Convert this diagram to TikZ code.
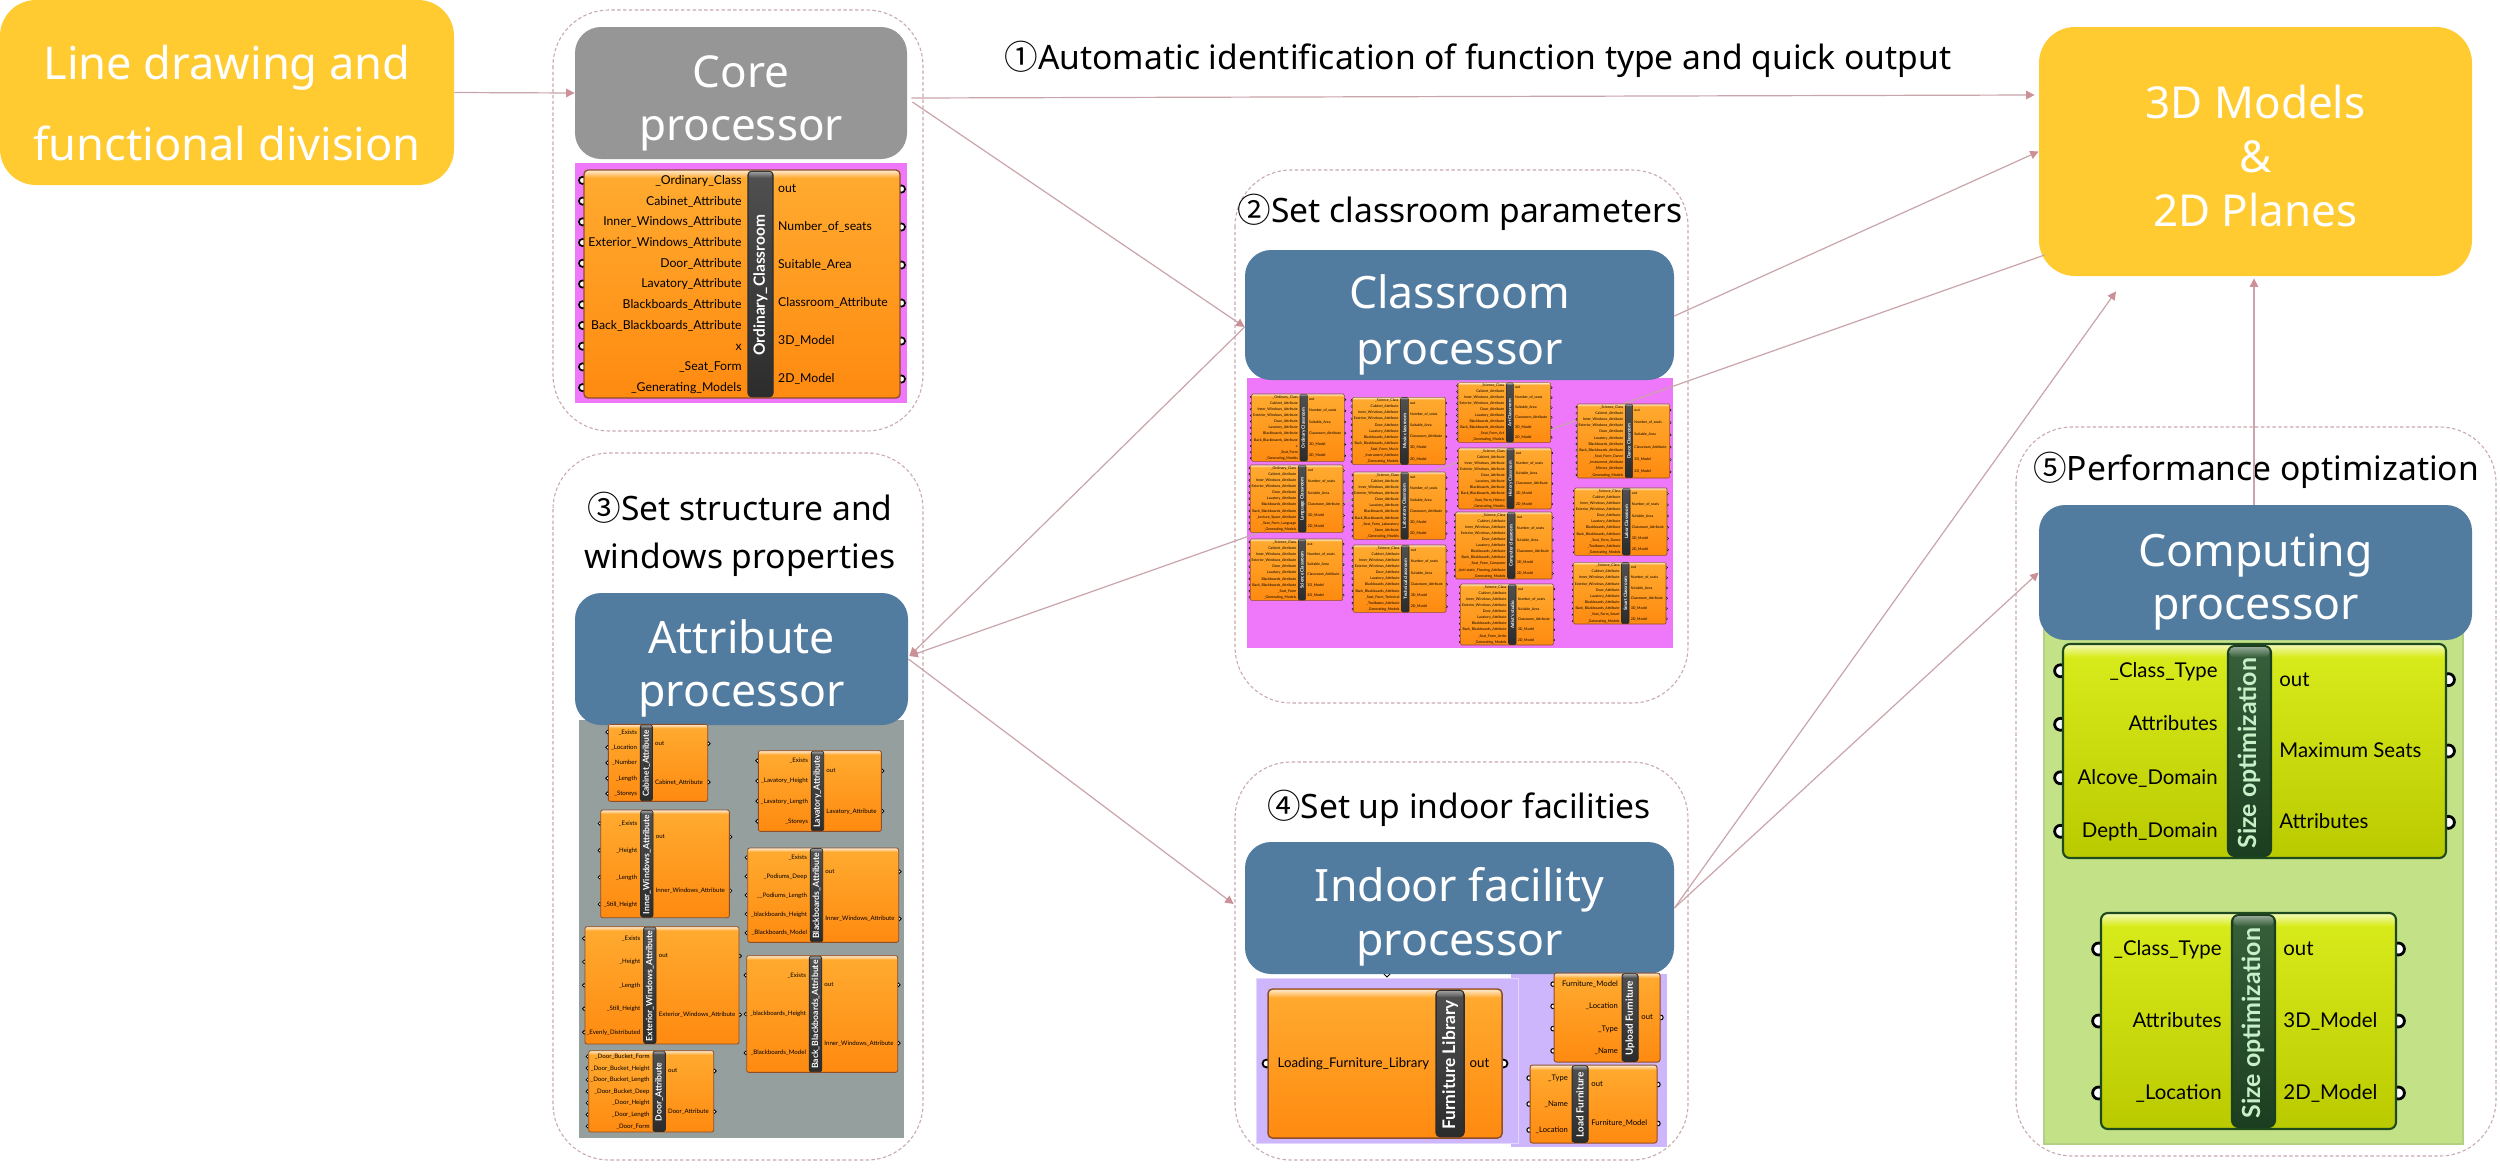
\documentclass[tikz,border=0pt]{standalone}
\usepackage{fontspec}
\setmainfont{Noto Sans}
\newfontfamily\ghfont{Lato}
\newfontfamily\numfont{Noto Sans CJK SC}
\usetikzlibrary{arrows.meta}
\definecolor{conn}{HTML}{C9A4AA}
\definecolor{tipc}{HTML}{CC9098}
\definecolor{dashc}{HTML}{C8AAB0}
\definecolor{yel}{HTML}{FFCB30}
\definecolor{blu}{HTML}{527BA0}
\definecolor{gry}{HTML}{969696}
\definecolor{pinkbg}{HTML}{EE78F9}
\definecolor{lilacbg}{HTML}{CDB6FB}
\definecolor{greybg}{HTML}{959F9E}
\definecolor{greenbg}{HTML}{C3E288}
\definecolor{oT}{HTML}{FFAB30}
\definecolor{oB}{HTML}{FF8A10}
\definecolor{oE}{HTML}{8F4E2A}
\definecolor{oH}{HTML}{FFE4C0}
\definecolor{gT}{HTML}{D9EC1C}
\definecolor{gB}{HTML}{BACA00}
\definecolor{gE}{HTML}{1E4A1E}
\definecolor{gH}{HTML}{F0F8A8}
\definecolor{bT}{HTML}{505050}
\definecolor{bB}{HTML}{2C2C2C}
\definecolor{bH}{HTML}{9A9A9A}
\definecolor{dT}{HTML}{36603A}
\definecolor{dB}{HTML}{1C3E20}
\definecolor{dH}{HTML}{8FA592}
\definecolor{dtx}{HTML}{C8F0C8}
\tikzset{
  procbox/.style={rectangle,rounded corners=13pt,inner sep=0pt},
  boxlabel/.style={inner sep=0pt,text=white,align=center},
  groupbox/.style={draw=dashc,line width=.55pt,dash pattern=on 1.7pt off 1.2pt,rounded corners=28pt},
  link/.style={draw=conn,line width=.6pt,-{Triangle[length=4.2pt,width=4.2pt,color=tipc]}},
  caption/.style={inner sep=0pt,text=black,align=center},
}
\newcommand\cnum[1]{{\numfont #1}}
\catcode`\_=12
\newcounter{ghn}
\def\ghparse#1,#2,#3,#4;#5,#6;{\def\zxa{#1}\def\zya{#2}\def\zxb{#3}\def\zyb{#4}\def\zba{#5}\def\zbb{#6}}
\def\ox{0}\def\oy{0}\def\zs{1}\def\tcoef{0.31}
\def\cT{oT}\def\cB{oB}\def\cE{oE}\def\cH{oH}\def\bbT{bT}\def\bbB{bB}\def\bbH{bH}\def\ttx{white}
\def\ghcountlist#1#2{\gdef\ghcnt{0}\foreach \t in #1 {\pgfmathtruncatemacro\ghm{\ghcnt+1}\global\let\ghcnt\ghm}\let#2\ghcnt}
\newcommand\ghc[5]{% {x1,y1,x2,y2;bx1,bx2} title left right fs
  \stepcounter{ghn}\edef\gid{gh\arabic{ghn}}%
  \ghparse#1;%
  \edef\ghL{#3}\edef\ghR{#4}%
  \pgfmathsetmacro\xa{\ox+\zxa/\zs}\pgfmathsetmacro\ya{\oy+\zya/\zs}%
  \pgfmathsetmacro\xb{\ox+\zxb/\zs}\pgfmathsetmacro\yb{\oy+\zyb/\zs}%
  \pgfmathsetmacro\ba{\ox+\zba/\zs}\pgfmathsetmacro\bb{\ox+\zbb/\zs}%
  \pgfmathsetmacro\fs{#5}\pgfmathsetmacro\fsp{#5*0.51}%
  \pgfmathsetmacro\rr{#5*0.17}\pgfmathsetmacro\pr{#5*0.30}\pgfmathsetmacro\plw{#5*0.07}%
  \pgfmathsetmacro\elw{#5*0.045+0.15}%
  \pgfmathsetmacro\tsz{(\bb-\ba)*\tcoef}%
  \ghcountlist\ghL\nL\ghcountlist\ghR\nR
  \foreach \t [count=\i] in \ghL {\pgfmathsetmacro\yy{\ya+(\yb-\ya)*(\i-0.5)/\nL}%
    \draw[black,fill=white,line width=\plw pt] (\xa-\pr*0.4,\yy) circle[radius=\pr];}%
  \foreach \t [count=\i] in \ghR {\pgfmathsetmacro\yy{\ya+(\yb-\ya)*(\i-0.5)/\nR}%
    \draw[black,fill=white,line width=\plw pt] (\xb+\pr*0.4,\yy) circle[radius=\pr];}%
  \path[top color=\cT,bottom color=\cB,rounded corners=\rr pt] (\xa,\ya) rectangle (\xb,\yb);%
  \path[top color=\cH,bottom color=\cT] (\xa+\fs*.08,\ya+\fs*.08) rectangle (\xb-\fs*.08,\ya+\fs*.65);%
  \draw[\cE,line width=\elw pt,rounded corners=\rr pt] (\xa,\ya) rectangle (\xb,\yb);%
  \path[top color=\bbT,bottom color=\bbB,draw=\bbB,line width=\elw pt,rounded corners=\rr pt] (\ba,\ya+\fs*.1) rectangle (\bb,\yb-\fs*.1);%
  \path[top color=\bbH,bottom color=\bbT,rounded corners=\rr*0.6 pt] (\ba+\fs*.08,\ya+\fs*.16) rectangle (\bb-\fs*.08,\ya+\fs*.65);%
  \foreach \t [count=\i] in \ghL {\pgfmathsetmacro\yy{\ya+(\yb-\ya)*(\i-0.5)/\nL+\fs*.33}%
    \node[name=\gid-l\i,anchor=base east,inner sep=0pt,font=\ghfont\fontsize{\fsp}{\fsp}\selectfont] at (\ba-\fs*.5,\yy) {\t};}%
  \foreach \t [count=\i] in \ghR {\pgfmathsetmacro\yy{\ya+(\yb-\ya)*(\i-0.5)/\nR+\fs*.33}%
    \node[name=\gid-r\i,anchor=base west,inner sep=0pt,font=\ghfont\fontsize{\fsp}{\fsp}\selectfont] at (\bb+\fs*.4,\yy) {\t};}%
  \node[name=\gid-t,rotate=90,inner sep=0pt,text=\ttx,font=\ghfont\bfseries\fontsize{\tsz}{\tsz}\selectfont] at ({(\ba+\bb)/2},{(\ya+\yb)/2+\fs*.1}) {#2};%
}
\def\ordA{_Ordinary_Class,Cabinet_Attribute,Inner_Windows_Attribute,Exterior_Windows_Attribute,Door_Attribute,Lavatory_Attribute,Blackboards_Attribute,Back_Blackboards_Attribute}
\def\sciA{_Science_Class,Cabinet_Attribute,Inner_Windows_Attribute,Exterior_Windows_Attribute,Door_Attribute,Lavatory_Attribute,Blackboards_Attribute,Back_Blackboards_Attribute}
\def\outA{out,Number_of_seats,Suitable_Area,Classroom_Attribute,3D_Model,2D_Model}
\begin{document}
\begin{tikzpicture}[x=0.5pt,y=-0.5pt]
\path[use as bounding box,fill=white] (0,0) rectangle (2500,1173);
% dashed groups
\path[groupbox] (553,10) rectangle (923,431);
\path[groupbox] (1235,170) rectangle (1688,703);
\path[groupbox] (553,453) rectangle (923,1160);
\path[groupbox] (1235,762) rectangle (1688,1160);
\path[groupbox] (2016,427) rectangle (2496,1156);
% coloured grounds
\fill[pinkbg] (575,163) rectangle (907,403);
\fill[pinkbg] (1247,378) rectangle (1673,648);
\fill[greybg] (579,720) rectangle (904,1138);
\fill[lilacbg] (1511,974) rectangle (1667,1147);
\path[fill=lilacbg,draw=lilacbg!55!white,line width=.5pt] (1256,978) rectangle (1518,1143);
\path[fill=greenbg,draw=greenbg!80!gray,line width=.6pt] (2044,630) rectangle (2463,1144);
\draw[black,line width=.5pt] (1383,973) -- (1387,977) -- (1391,973);
% main boxes
\node[procbox,fill=yel,rounded corners=18pt,minimum width=227pt,minimum height=92.5pt] (linebox) at (227,92.5) {};
\node[procbox,fill=gry,minimum width=166pt,minimum height=66pt] (core) at (741,93) {};
\node[procbox,fill=blu,minimum width=214.5pt,minimum height=65pt] (classroom) at (1459.5,315) {};
\node[procbox,fill=blu,minimum width=166.5pt,minimum height=66pt] (attribute) at (741.5,659) {};
\node[procbox,fill=blu,minimum width=214.5pt,minimum height=66pt] (indoor) at (1459.5,908) {};
\node[procbox,fill=blu,minimum width=216.5pt,minimum height=67.5pt] (computing) at (2255.5,572.5) {};
\node[procbox,fill=yel,rounded corners=18pt,minimum width=216.5pt,minimum height=124.5pt] (model) at (2255.5,151.5) {};
% box labels
\node[boxlabel,font=\fontsize{22.6}{40.5}\selectfont] (lineboxT) at (227,103) {Line drawing and\\functional division};
\node[boxlabel,font=\fontsize{22}{26.5}\selectfont] (coreT) at (741,103) {Core\\processor};
\node[boxlabel,font=\fontsize{22.3}{28}\selectfont] (classroomT) at (1459.5,325) {Classroom\\processor};
\node[boxlabel,font=\fontsize{22.3}{26.5}\selectfont] (attributeT) at (741.5,668) {Attribute\\processor};
\node[boxlabel,font=\fontsize{22.3}{27}\selectfont] (indoorT) at (1459.5,917) {Indoor facility\\processor};
\node[boxlabel,font=\fontsize{22.3}{26.5}\selectfont] (computingT) at (2255.5,582) {Computing\\processor};
\node[boxlabel,font=\fontsize{22}{27}\selectfont] (modelT) at (2255.5,156) {3D Models\\\&\\2D Planes};
% captions
\node[caption,font=\fontsize{16.8}{18}\selectfont] (cap1) at (1478,59) {\cnum{①}Automatic identification of function type and quick output};
\node[caption,font=\fontsize{16.8}{18}\selectfont] (cap2) at (1460,212) {\cnum{②}Set classroom parameters};
\node[caption,font=\fontsize{16.8}{24}\selectfont] (cap3) at (740,534) {\cnum{③}Set structure and\\windows properties};
\node[caption,font=\fontsize{16.8}{18}\selectfont] (cap4) at (1459,808) {\cnum{④}Set up indoor facilities};
\node[caption,font=\fontsize{16.8}{18}\selectfont] (cap5) at (2256,470) {\cnum{⑤}Performance optimization};
% connector running under the classroom components
\draw[link] ([shift={(6,103.5)}]model.west) -- ([shift={(1,-3)}]attribute.east);
% core component
\def\tcoef{0.31}
\ghc{584,170,900,398;748,773}{Ordinary_Classroom}{\ordA,x,_Seat_Form,_Generating_Models}{\outA}{12}
% classroom components
\def\ox{1230}\def\oy{370}\def\zs{3}
\ghc{65,72,343,274;210,232}{Ordinary Classroom}{\ordA,x,_Seat_Form,_Generating_Models}{\outA}{3.5}
\ghc{61,285,339,487;205,228}{Language Classroom}{\ordA,_Lecture_Space_Attribute,_Seat_Form_Language,_Generating_Models}{\outA}{3.5}
\ghc{61,507,338,691;205,227}{Science Classroom}{\sciA,_Seat_Form,_Generating_Models}{\outA}{3.5}
\ghc{367,82,646,284;512,535}{Music classroom}{\sciA,_Seat_Form_Music,_Instrument_Attribute,_Generating_Models}{\outA}{3.5}
\ghc{370,306,647,508;513,535}{Laboratory Classroom}{\sciA,_Seat_Form_Laboratory,_Store_Attribute,_Generating_Models}{\outA}{3.5}
\ghc{370,525,648,727;515,537}{Technical classroom}{\sciA,_Seat_Form_Technical,_Toolboxes_Attribute,_Generating_Models}{\outA}{3.5}
\ghc{684,38,962,217;829,850}{Art Classroom}{\sciA,_Seat_Form_Art,_Generating_Models}{\outA}{3.5}
\ghc{686,234,964,417;831,852}{History Classroom}{\sciA,_Seat_Form_History,_Generating_Models}{\outA}{3.5}
\ghc{677,426,966,627;833,855}{Computer classroom}{\sciA,_Seat_Form_Computer,_Anti-static_Flooring_Attribute,_Generating_Models}{\outA}{3.5}
\ghc{692,642,970,825;836,858}{Artist's studio}{\sciA,_Seat_Form_Artist,_Generating_Models}{\outA}{3.5}
\ghc{1042,102,1319,324;1186,1208}{Dance Classroom}{\sciA,_Seat_Form_Dance,_Instrument_Attribute,_Mirrors_Attribute,_Generating_Models}{\outA}{3.5}
\ghc{1034,354,1311,556;1178,1200}{Labor Classroom}{\sciA,_Seat_Form_Dance,_Toolboxes_Attribute,_Generating_Models}{\outA}{3.5}
\ghc{1031,577,1308,762;1175,1197}{Smart Classroom}{\sciA,_Seat_Form_Smart,_Generating_Models}{\outA}{3.5}
% attribute components
\def\ox{560}\def\oy{700}\def\tcoef{0.35}
\ghc{145,73,443,304;241,277}{Cabinet_Attribute}{_Exists,_Location,_Number,_Length,_Storeys}{out,Cabinet_Attribute}{6}
\ghc{122,330,508,653;242,279}{Inner_Windows_Attribute}{_Exists,_Height,_Length,_Still_Height}{out,Inner_Windows_Attribute}{6}
\ghc{75,680,537,1032;251,288}{Exterior_Windows_Attribute}{_Exists,_Height,_Length,_Still_Height,_Evenly_Distributed}{out,Exterior_Windows_Attribute}{6}
\ghc{86,1052,461,1296;279,316}{Door_Attribute}{_Door_Bucket_Form,_Door_Bucket_Height,_Door_Bucket_Length,_Door_Bucket_Deep,_Door_Height,_Door_Length,_Door_Form}{out,Door_Attribute}{6}
\ghc{595,152,964,394;754,791}{Lavatory_Attribute}{_Exists,_Lavatory_Height,_Lavatory_Length,_Storeys}{out,Lavatory_Attribute}{6}
\ghc{563,444,1016,727;751,788}{Blackboards_Attribute}{_Exists,_Podiums_Deep,__Podiums_Length,_blackboards_Height,_Blackboards_Model}{out,Inner_Windows_Attribute}{6}
\ghc{560,767,1013,1117;748,785}{Back_Blackboards_Attribute}{_Exists,_blackboards_Height,_Blackboards_Model}{out,Inner_Windows_Attribute}{6}
% furniture components
\def\ox{0}\def\oy{0}\def\zs{1}\def\tcoef{0.31}
\ghc{1268,989,1502,1138;1436,1464}{Furniture Library}{Loading_Furniture_Library}{out}{13}
\ghc{1554,973,1660,1062;1622,1638}{Upload Furniture}{Furniture_Model,_Location,_Type,_Name}{out}{7.5}
\ghc{1530,1065,1657,1143;1572,1588}{Load Furniture}{_Type,_Name,_Location}{out,Furniture_Model}{7.5}
% computing components
\def\cT{gT}\def\cB{gB}\def\cE{gE}\def\cH{gH}\def\bbT{dT}\def\bbB{dB}\def\bbH{dH}\def\ttx{dtx}\def\tcoef{0.29}
\ghc{2063,644,2446,858;2228,2271}{Size optimization}{_Class_Type,Attributes,Alcove_Domain,Depth_Domain}{out,Maximum Seats,Attributes}{20}
\ghc{2101,913,2396,1129;2232,2275}{Size optimization}{_Class_Type,Attributes,_Location}{out,3D_Model,2D_Model}{20}
% connectors
\draw[link] (linebox.east) -- (core.west);
\draw[link] ([shift={(4,5)}]core.east) -- ([shift={(-4,-56.5)}]model.west);
\draw[link] ([shift={(5,9)}]core.east) -- ([shift={(0,12)}]classroom.west);
\draw[link] ([shift={(0,12)}]classroom.west) -- ([shift={(1,-3)}]attribute.east);
\draw[link] ([shift={(0,1)}]classroom.east) -- (model.west);
\draw[link] (attribute.east) -- ([shift={(-11,-4)}]indoor.west);
\draw[link] (indoor.east) -- ([shift={(-139.5,15)}]model.south);
\draw[link] (indoor.east) -- (computing.west);
\draw[link] ([shift={(-1.5,0)}]computing.north) -- ([shift={(-1.5,2)}]model.south);
\end{tikzpicture}
\end{document}
